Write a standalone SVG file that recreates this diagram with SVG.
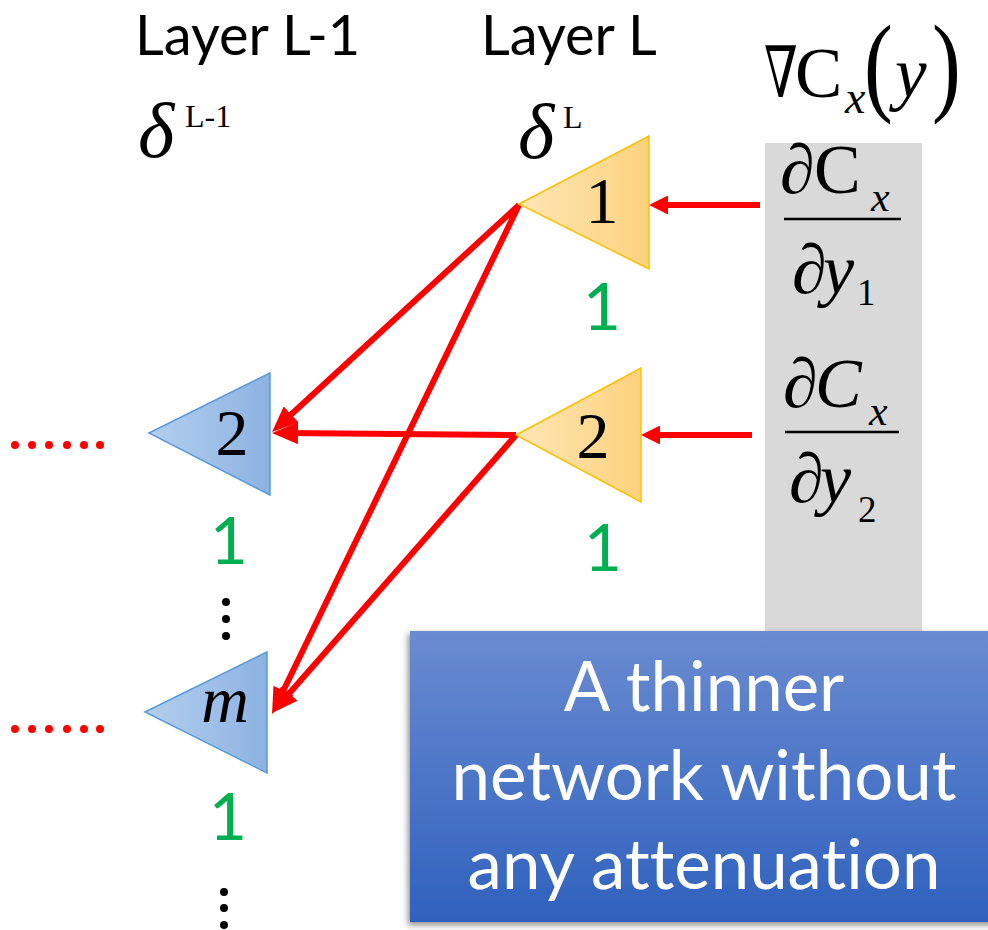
<svg xmlns="http://www.w3.org/2000/svg" width="988" height="930" viewBox="0 0 988 930">
  <defs>
    <linearGradient id="gOrange" x1="0" y1="0" x2="1" y2="0">
      <stop offset="0" stop-color="#fde6b6"/>
      <stop offset="1" stop-color="#fdd27e"/>
    </linearGradient>
    <linearGradient id="gBlue" x1="0" y1="0" x2="1" y2="0">
      <stop offset="0" stop-color="#b3cfee"/>
      <stop offset="1" stop-color="#8db2e2"/>
    </linearGradient>
    <linearGradient id="gBox" x1="0" y1="0" x2="0" y2="1">
      <stop offset="0" stop-color="#6a8bd1"/>
      <stop offset="1" stop-color="#2f61bd"/>
    </linearGradient>
    <filter id="shadow" x="-10%" y="-10%" width="120%" height="120%">
      <feDropShadow dx="-2" dy="3" stdDeviation="3" flood-color="#000" flood-opacity="0.45"/>
    </filter>
    <marker id="headBig" viewBox="0 0 26 22" refX="13" refY="11" markerWidth="26" markerHeight="22" markerUnits="userSpaceOnUse" orient="auto">
      <path d="M0,0 L26,11 L0,22 z" fill="#ff0000"/>
    </marker>
    <marker id="headSmall" viewBox="0 0 19 19" refX="8" refY="9.5" markerWidth="19" markerHeight="19" markerUnits="userSpaceOnUse" orient="auto">
      <path d="M0,0 L19,9.5 L0,19 z" fill="#ff0000"/>
    </marker>
  </defs>
  <style>
    .sans { font-family: Lato, "Open Sans", "Liberation Sans", sans-serif; font-variant-ligatures: none; }
    .serif { font-family: "Liberation Serif", "DejaVu Serif", serif; }
    .label { font-size: 56px; fill: #000; }
    .green { font-size: 66px; fill: #00b050; text-anchor: middle; }
    .num { font-size: 66px; fill: #000; text-anchor: middle; }
    .tri-o { fill: url(#gOrange); stroke: #ffc000; stroke-width: 1.5; }
    .tri-b { fill: url(#gBlue); stroke: #5b9bd5; stroke-width: 1.5; }
    .wire { stroke: #ff0000; stroke-width: 6; fill: none; }
    .dot-r { fill: #ff0000; }
    .dot-k { fill: #000; }
    .boxtext { font-size: 69px; fill: #fff; text-anchor: middle; }
  </style>

  <rect width="988" height="930" fill="#fff"/>

  <!-- column headings -->
  <g id="headings">
    <text class="sans label" x="135" y="55">Layer L-1</text>
    <text class="sans label" x="481" y="55">Layer L</text>
  </g>

  <!-- delta labels -->
  <g id="delta-prev" class="serif">
    <text x="138" y="157" font-size="78" font-style="italic">δ</text>
    <text x="185" y="127" font-size="32">L-1</text>
  </g>
  <g id="delta-cur" class="serif">
    <text x="518" y="158" font-size="78" font-style="italic">δ</text>
    <text x="563" y="128" font-size="32">L</text>
  </g>

  <!-- gradient column -->
  <g id="gradient-column">
    <rect x="765" y="143" width="157" height="500" fill="#d9d9d9"/>
    <g class="serif">
      <text transform="translate(764,97) scale(0.68,1)" font-size="71">∇</text>
      <text x="795" y="97" font-size="71">C</text>
      <text x="845" y="113" font-size="46" font-style="italic">x</text>
      <text transform="translate(864,101) scale(0.9,1.15)" font-size="96">(</text>
      <text x="895" y="97" font-size="71" font-style="italic">y</text>
      <text transform="translate(932,101) scale(0.9,1.15)" font-size="96">)</text>
    </g>
    <g id="dC-dy1" class="serif">
      <text x="780" y="193" font-size="70">∂</text>
      <text x="814" y="193" font-size="70">C</text>
      <text x="871" y="211" font-size="42" font-style="italic">x</text>
      <line x1="784" y1="219" x2="901" y2="219" stroke="#000" stroke-width="2.5"/>
      <text x="792" y="293" font-size="70">∂</text>
      <text x="823" y="293" font-size="70" font-style="italic">y</text>
      <text x="857" y="305" font-size="37">1</text>
    </g>
    <g id="dC-dy2" class="serif">
      <text x="783" y="407" font-size="70">∂</text>
      <text x="815" y="407" font-size="70" font-style="italic">C</text>
      <text x="869" y="425" font-size="42" font-style="italic">x</text>
      <line x1="785" y1="432" x2="899" y2="432" stroke="#000" stroke-width="2.5"/>
      <text x="789" y="502" font-size="70">∂</text>
      <text x="820" y="502" font-size="70" font-style="italic">y</text>
      <text x="858" y="522" font-size="37">2</text>
    </g>
  </g>

  <!-- connectors -->
  <g id="connectors">
    <path class="wire" d="M519,205 L281.6,423.3" marker-end="url(#headBig)"/>
    <path class="wire" d="M516,435 L285,433.1" marker-end="url(#headBig)"/>
    <path class="wire" d="M519,205 L277.7,702.3" marker-end="url(#headBig)"/>
    <path class="wire" d="M516,435 L280.6,703.2" marker-end="url(#headBig)"/>
    <path class="wire" d="M760,205 L660,205" marker-end="url(#headSmall)"/>
    <path class="wire" d="M752,435 L652,435" marker-end="url(#headSmall)"/>
  </g>

  <!-- layer L nodes -->
  <g id="node-L1">
    <polygon class="tri-o" points="519,204 649,136 649,269"/>
    <text class="serif num" x="602" y="223">1</text>
    <text class="sans green" x="602" y="330">1</text>
  </g>
  <g id="node-L2">
    <polygon class="tri-o" points="516,435 641,368 641,502"/>
    <text class="serif num" x="593" y="458">2</text>
    <text class="sans green" x="603" y="571">1</text>
  </g>

  <!-- layer L-1 nodes -->
  <g id="node-prev2">
    <polygon class="tri-b" points="149,433 270,373 270,495"/>
    <text class="serif num" x="232" y="455">2</text>
    <text class="sans green" x="229" y="564">1</text>
    <g class="dot-r">
      <circle cx="15" cy="445" r="4"/><circle cx="32" cy="445" r="4"/><circle cx="49" cy="445" r="4"/>
      <circle cx="67" cy="445" r="4"/><circle cx="84" cy="445" r="4"/><circle cx="100" cy="445" r="4"/>
    </g>
    <g class="dot-k">
      <circle cx="226" cy="602" r="4"/><circle cx="226" cy="619" r="4"/><circle cx="226" cy="636" r="4"/>
    </g>
  </g>
  <g id="node-prevm">
    <polygon class="tri-b" points="145,712 267,652 267,773"/>
    <text class="serif num" x="225" y="722" font-style="italic">m</text>
    <text class="sans green" x="228" y="840">1</text>
    <g class="dot-r">
      <circle cx="15" cy="729" r="4"/><circle cx="32" cy="729" r="4"/><circle cx="49" cy="729" r="4"/>
      <circle cx="67" cy="729" r="4"/><circle cx="84" cy="729" r="4"/><circle cx="100" cy="729" r="4"/>
    </g>
    <g class="dot-k">
      <circle cx="224" cy="892" r="4"/><circle cx="224" cy="908" r="4"/><circle cx="224" cy="925" r="4"/>
    </g>
  </g>

  <!-- callout box -->
  <g id="callout">
    <rect x="410" y="631" width="590" height="291" fill="url(#gBox)" filter="url(#shadow)"/>
    <text class="sans boxtext" x="704" y="711">A thinner</text>
    <text class="sans boxtext" x="704" y="800">network without</text>
    <text class="sans boxtext" x="704" y="889">any attenuation</text>
  </g>
</svg>
